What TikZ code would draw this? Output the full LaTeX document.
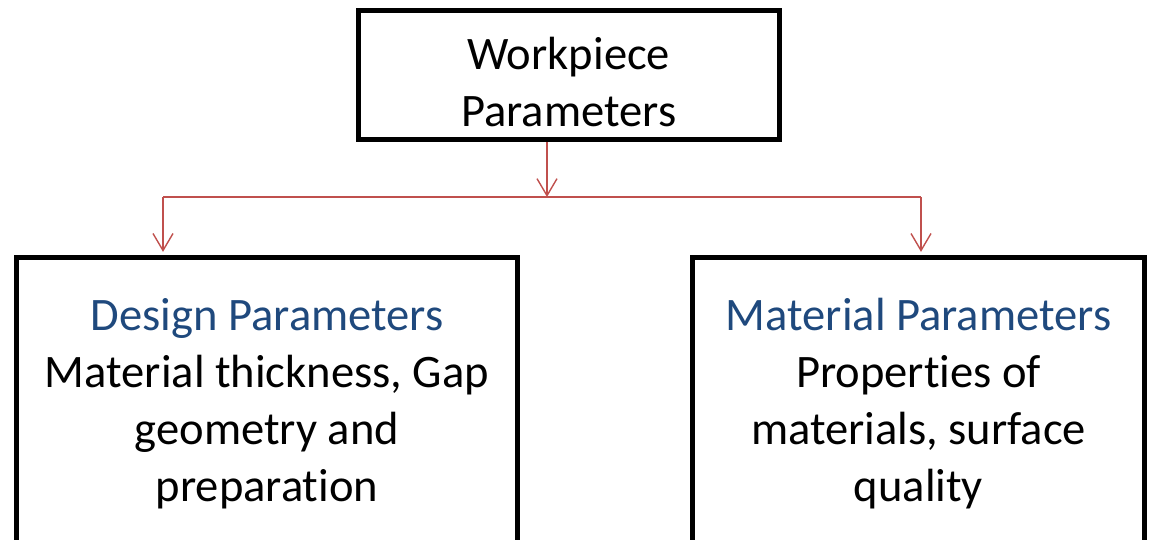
\documentclass[tikz,border=0pt]{standalone}
\usepackage{fontspec}
\setmainfont{Carlito}[Ligatures=NoCommon]
\usetikzlibrary{arrows.meta, positioning, calc}
\definecolor{lnred}{HTML}{C0504D}
\definecolor{hdblue}{HTML}{1F497D}
\tikzset{
  blk/.style={draw, line width=0.1cm, align=center, inner sep=0pt, font=\fontsize{26.5}{32.5}\selectfont},
  tra/.style={-{Straight Barb[length=3.4mm, width=4mm]}, draw=lnred, line width=0.8pt},
  lin/.style={draw=lnred, line width=0.8pt}
}

\begin{document}
\begin{tikzpicture}[x=0.02cm, y=-0.02cm]
		\useasboundingbox (0,0) rectangle (1149,539);
		\node[blk, minimum width=8.42cm, minimum height=2.6cm] (wp) at (568.75,75) {\rule{0pt}{26.5pt}Workpiece\\Parameters};
		\node[blk, minimum width=10.02cm, minimum height=5.86cm, anchor=north] (des) at (267,254.5)
			{\textcolor{hdblue}{Design Parameters}\\Material thickness, Gap\\geometry and\\preparation};
		\node[blk, minimum width=9.04cm, minimum height=5.86cm, anchor=north] (mat) at (918.5,254.5)
			{\textcolor{hdblue}{Material Parameters}\\Properties of\\materials, surface\\quality};
		\coordinate (split) at (547,197);
		\coordinate (lt) at (163,197);
		\coordinate (rt) at (921,197);
		\draw[tra] (split |- wp.south) -- (split);
		\draw[lin] (lt) -- (rt);
		\draw[tra, shorten >=1.5pt] (lt) -- (lt |- des.north);
		\draw[tra, shorten >=1.5pt] (rt) -- (rt |- mat.north);
	\end{tikzpicture}
\end{document}
